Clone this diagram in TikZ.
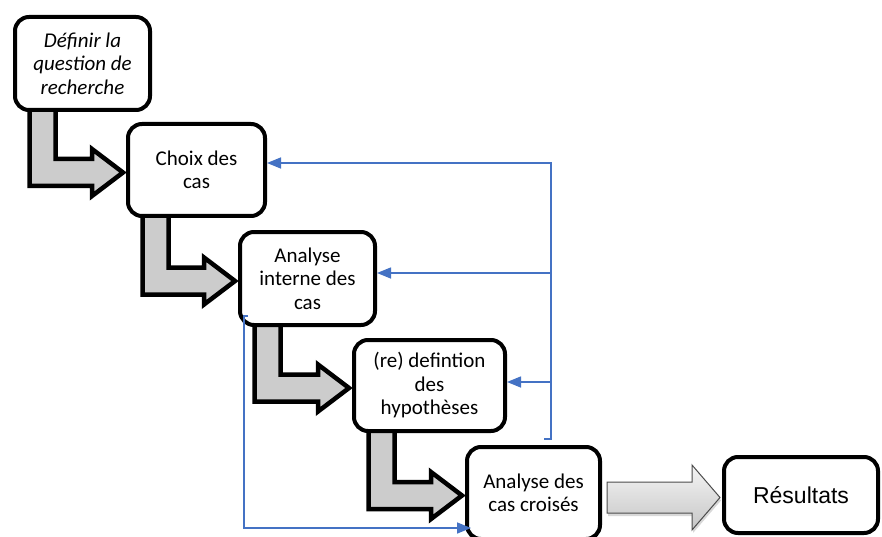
\documentclass[tikz,border=0pt]{standalone}
\usepackage{fontspec}
\newfontfamily\calib{Carlito}
\newfontfamily\arialf{Liberation Sans}
\usetikzlibrary{calc,arrows.meta,backgrounds,shadows}
\definecolor{fb}{HTML}{4472C4}
\begin{document}
\begin{tikzpicture}[x=1pt,y=-1pt,
  box/.style={draw=black, line width=4pt, rounded corners=14pt, fill=white,
    align=center, inner sep=0pt, font=\calib\fontsize{21}{23.5}\selectfont},
  bent/.style={draw=black, line width=4.5pt, fill=gray!40, line join=miter},
  resarr/.style={draw=gray!60!black, line width=1pt, top color=gray!8, bottom color=gray!45,
    drop shadow={opacity=0.3, shadow xshift=1pt, shadow yshift=-3pt}},
  fbline/.style={draw=fb, line width=1.5pt},
  fbarr/.style={fbline, -{Triangle[length=14pt,width=11pt]}}]
\useasboundingbox (0,0) rectangle (882,537);
\clip (0,0) rectangle (882,537);

% boxes
\node[box, minimum width=135, minimum height=93] (b1) at (82.5,63.5) {\itshape Définir la\\\itshape question de\\\itshape recherche};
\node[box, minimum width=137, minimum height=92] (b2) at (196.5,170) {Choix des\\cas};
\node[box, minimum width=135, minimum height=93] (b3) at (307.5,278.5) {Analyse\\interne des\\cas};
\node[box, minimum width=151, minimum height=91] (b4) at (429.5,385.5) {(re) defintion\\des\\hypothèses};
\node[box, minimum width=133, minimum height=92] (b5) at (533.5,493) {Analyse des\\cas croisés};
\node[box, minimum width=154, minimum height=76, font=\arialf\fontsize{23}{27}\selectfont] (b6) at (801,495) {Résultats};

\newcommand\bentarr[2]{%
  \draw[bent] let \p1=(#1.south west), \p2=(#2.west) in
    (\x1+16.5pt,\y1+6pt) -- (\x1+42.5pt,\y1+6pt) -- (\x1+42.5pt,\y2+11pt)
    -- (\x2-34pt,\y2+11pt) -- (\x2-34pt,\y2+21pt) -- (\x2-3pt,\y2-2.5pt)
    -- (\x2-34pt,\y2-26pt) -- (\x2-34pt,\y2-16pt) -- (\x1+16.5pt,\y2-16pt) -- cycle;}

\begin{scope}[on background layer]
  \fill[white] (0,0) rectangle (882,537);
  \bentarr{b1}{b2}
  \bentarr{b2}{b3}
  \bentarr{b3}{b4}
  \bentarr{b4}{b5}
  \draw[resarr] let \p1=(b5.east), \p2=(b6.west) in
    (\x1+5pt,\y2+13pt) -- (\x2-30pt,\y2+13pt) -- (\x2-30pt,\y2+30pt)
    -- (\x2-2pt,\y2-2.5pt) -- (\x2-30pt,\y2-35pt) -- (\x2-30pt,\y2-18pt)
    -- (\x1+5pt,\y2-18pt) -- cycle;
\end{scope}

% feedback lines
\coordinate (rt) at (551,163);
\coordinate (rb) at (551,439);
\draw[fbarr] (544,439) -- (rb) -- (rt) -- (b2.east |- rt);
\draw[fbarr] (551,273) -- (b3.east |- 0,273);
\draw[fbarr] (551,382) -- (b4.east |- 0,382);
\coordinate (lt) at (244,316);
\coordinate (lb) at (244,528);
\draw[fbarr] (248,316) -- (lt) -- (lb) -- ($(b5.west |- lb)+(6,0)$);
\end{tikzpicture}
\end{document}
